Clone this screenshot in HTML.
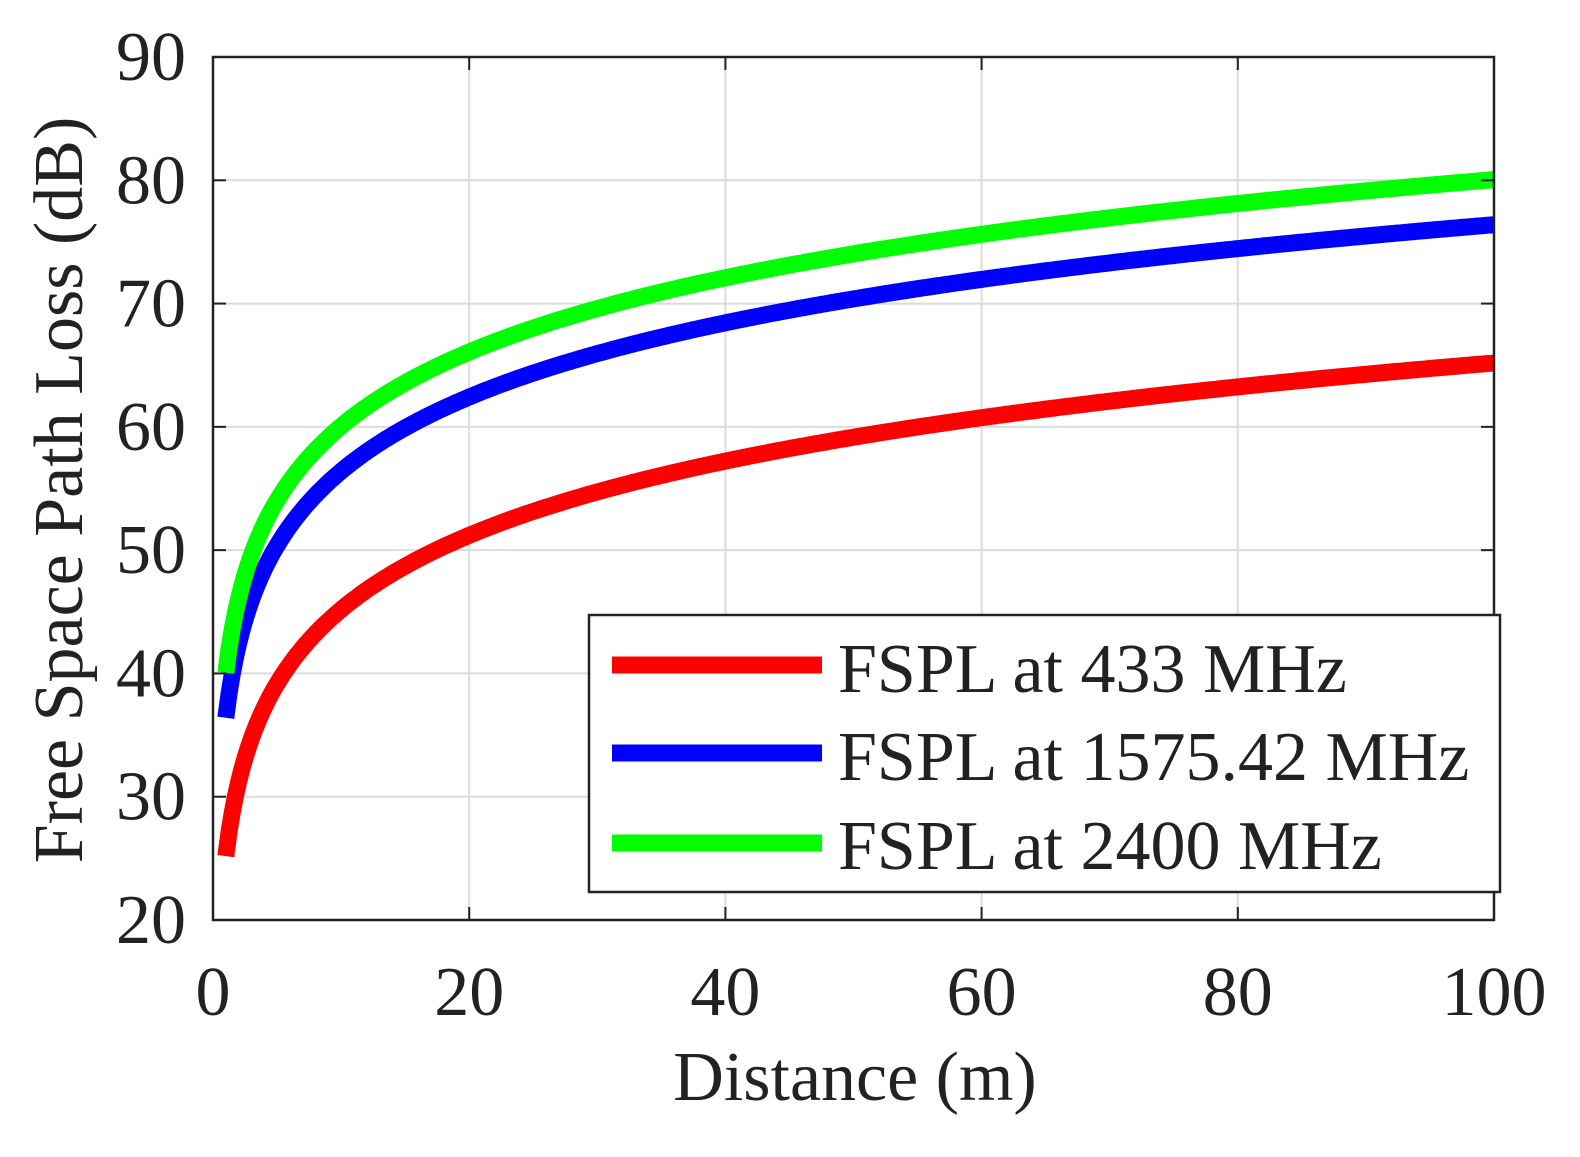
<!DOCTYPE html>
<html><head><meta charset="utf-8"><style>
html,body{margin:0;padding:0;background:#fff;}
svg{display:block;font-family:"Liberation Serif",serif;}
</style></head><body>
<svg id="s" width="1580" height="1157" viewBox="0 0 1580 1157" xmlns="http://www.w3.org/2000/svg">
<rect width="1580" height="1157" fill="#fff"/>
<g id="grid" stroke="#dcdcdc" stroke-width="2"></g>
<g id="curves" fill="none" stroke-width="17" stroke-linejoin="round"></g>
<rect x="213" y="57" width="1281" height="863" fill="none" stroke="#222" stroke-width="2.5"/>
<g id="ticks" stroke="#222" stroke-width="2"></g>
<g id="labels" font-size="70" fill="#222"></g>
<text x="855" y="1100" font-size="70" text-anchor="middle" fill="#222">Distance (m)</text>
<text transform="translate(82,490) rotate(-90)" font-size="70" text-anchor="middle" fill="#222">Free Space Path Loss (dB)</text>
<rect x="589" y="615" width="911" height="277" fill="#fff" stroke="#222" stroke-width="2.5"/>
<line x1="612" y1="665" x2="822" y2="665" stroke="#ff0000" stroke-width="17"/>
<line x1="612" y1="753" x2="822" y2="753" stroke="#0000ff" stroke-width="17"/>
<line x1="612" y1="843" x2="822" y2="843" stroke="#00ff00" stroke-width="17"/>
<text x="838" y="692" font-size="70" fill="#222">FSPL at 433 MHz</text>
<text x="838" y="780" font-size="70" fill="#222">FSPL at 1575.42 MHz</text>
<text x="838" y="869" font-size="70" fill="#222">FSPL at 2400 MHz</text>
</svg>
<script>
var NS="http://www.w3.org/2000/svg";
function X(d){return 213+d*12.81;}
function Y(v){return 920-(v-20)*(863/70);}
function el(p,t,a,txt){var e=document.createElementNS(NS,t);for(var k in a)e.setAttribute(k,a[k]);if(txt!==undefined)e.textContent=txt;document.getElementById(p).appendChild(e);}
for(var d=20;d<100;d+=20)el("grid","line",{x1:X(d),y1:57,x2:X(d),y2:920});
for(var v=30;v<90;v+=10)el("grid","line",{x1:213,y1:Y(v),x2:1494,y2:Y(v)});
for(var d=0;d<=100;d+=20){el("ticks","line",{x1:X(d),y1:920,x2:X(d),y2:907});el("ticks","line",{x1:X(d),y1:57,x2:X(d),y2:70});
 el("labels","text",{x:X(d),y:1015,"text-anchor":"middle"},String(d));}
for(var v=20;v<=90;v+=10){el("ticks","line",{x1:213,y1:Y(v),x2:226,y2:Y(v)});el("ticks","line",{x1:1494,y1:Y(v),x2:1481,y2:Y(v)});
 el("labels","text",{x:186,y:Y(v)+23,"text-anchor":"end"},String(v));}
var fs=[[433,"#ff0000"],[1575.42,"#0000ff"],[2400,"#00ff00"]];
fs.forEach(function(f){var p="";for(var d=1;d<=100;d+=0.25){var v=20*Math.log10(d)+20*Math.log10(f[0])-27.55;p+=(p?"L":"M")+X(d).toFixed(1)+","+Y(v).toFixed(1);}
 el("curves","path",{d:p,stroke:f[1]});});
</script>
</body></html>
